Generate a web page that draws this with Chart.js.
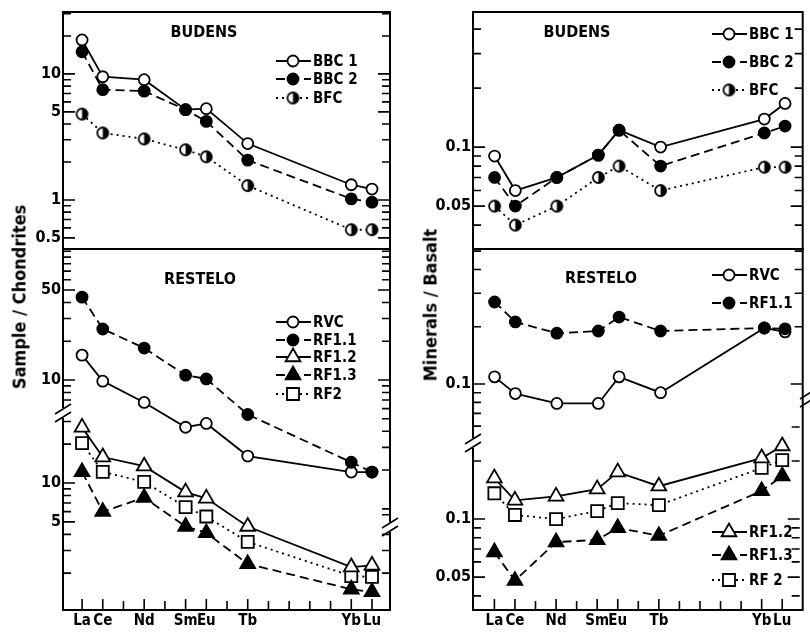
<!DOCTYPE html>
<html lang="en">
  <head>
    <meta charset="utf-8" />
    <title>REE patterns - Budens / Restelo</title>
    <style>
      * {
        margin: 0;
        padding: 0;
      }
      body {
        background: #fff;
      }
      .sheet {
        position: relative;
        width: 810px;
        height: 634px;
        background: #fff;
        overflow: hidden;
      }
      .sheet canvas {
        position: absolute;
        left: 0;
        top: 0;
      }
      .ytitle {
        position: absolute;
        transform: translate(-50%, -50%) rotate(-90deg);
        white-space: nowrap;
        font: bold 18px "DejaVu Sans Condensed", "DejaVu Sans", sans-serif;
        color: #000;
      }
    </style>
  </head>
  <body>
    <div class="sheet">
      <canvas id="chBud" width="810" height="634"></canvas>
      <canvas id="chResUp" width="810" height="634"></canvas>
      <canvas id="chResLo" width="810" height="634"></canvas>
      <canvas id="mbBud" width="810" height="634"></canvas>
      <canvas id="mbResUp" width="810" height="634"></canvas>
      <canvas id="mbResLo" width="810" height="634"></canvas>
      <div class="ytitle" style="left: 19px; top: 297px">Sample / Chondrites</div>
      <div class="ytitle" style="left: 430px; top: 305px">Minerals / Basalt</div>
    </div>

    <script src="https://cdn.jsdelivr.net/npm/chart.js"></script>
    <script>
      // rare earth elements, placed by atomic number
      const ree = ["La", "Ce", "Nd", "Sm", "Eu", "Tb", "Yb", "Lu"];
      const atomicNo = [57, 58, 60, 62, 63, 65, 70, 71];
      const xTickNos = [57, 58, 59, 60, 61, 62, 63, 64, 65, 66, 67, 68, 69, 70, 71];

      // sample / chondrites
      const chBBC1 = [18.6, 9.5, 9.0, 5.2, 5.3, 2.8, 1.32, 1.22];
      const chBBC2 = [15, 7.5, 7.3, 5.2, 4.2, 2.07, 1.02, 0.96];
      const chBFC = [4.8, 3.4, 3.05, 2.5, 2.2, 1.3, 0.58, 0.58];
      const chRVC = [15.6, 9.8, 6.7, 4.3, 4.6, 2.57, 1.93, 1.93];
      const chRF11 = [44, 24.9, 17.7, 10.9, 10.2, 5.4, 2.3, 1.93];
      const chRF12 = [27, 15.9, 13.5, 8.5, 7.6, 4.6, 2.23, 2.3];
      const chRF13 = [12.2, 6.0, 7.7, 4.6, 4.1, 2.36, 1.5, 1.43];
      const chRF2 = [20.4, 12.2, 10.2, 6.5, 5.5, 3.5, 1.9, 1.87];

      // minerals / basalt
      const mbBBC1 = [0.09, 0.06, 0.07, 0.091, 0.122, 0.1, 0.139, 0.167];
      const mbBBC2 = [0.07, 0.05, 0.07, 0.091, 0.122, 0.08, 0.118, 0.128];
      const mbBFC = [0.05, 0.04, 0.05, 0.07, 0.08, 0.06, 0.079, 0.079];
      const mbRVC = [0.109, 0.089, 0.079, 0.079, 0.109, 0.09, 0.197, 0.188];
      const mbRF11 = [0.27, 0.212, 0.185, 0.19, 0.225, 0.19, 0.197, 0.195];
      const mbRF12 = [0.163, 0.125, 0.131, 0.143, 0.175, 0.148, 0.207, 0.239];
      const mbRF13 = [0.0675, 0.048, 0.076, 0.078, 0.09, 0.082, 0.14, 0.167];
      const mbRF2 = [0.136, 0.105, 0.1, 0.11, 0.121, 0.118, 0.184, 0.202];

      // labelled y ticks
      const chBudTicks = [0.5, 1, 5, 10];
      const chUpTicks = [10, 50];
      const chLoTicks = [5, 10];
      const mbBudTicks = [0.05, 0.1];
      const mbUpTicks = [0.1];
      const mbLoTicks = [0.05, 0.1];

      const FONT = '"DejaVu Sans Condensed", "DejaVu Sans", sans-serif';
      Chart.defaults.font.family = FONT;
      Chart.defaults.font.size = 16;
      Chart.defaults.font.weight = "bold";
      Chart.defaults.color = "#000";

      // half filled circle (BFC)
      function halfDot(r) {
        const c = document.createElement("canvas");
        const s = Math.ceil(2 * r + 4);
        c.width = c.height = s;
        const g = c.getContext("2d");
        const m = s / 2;
        g.fillStyle = "#fff";
        g.beginPath();
        g.arc(m, m, r, 0, 2 * Math.PI);
        g.fill();
        g.fillStyle = "#000";
        g.beginPath();
        g.arc(m, m, r, -Math.PI / 2, Math.PI / 2);
        g.fill();
        g.lineWidth = 1.8;
        g.beginPath();
        g.arc(m, m, r, 0, 2 * Math.PI);
        g.stroke();
        return c;
      }
      const half = halfDot(5.5);

      const looks = {
        open: { dash: [], st: "circle", fill: "#fff", r: 5.5 },
        solid: { dash: [9, 5], st: "circle", fill: "#000", r: 5.5 },
        half: { dash: [2, 4], st: half, fill: "#fff", r: 5.5 },
        openTri: { dash: [], st: "triangle", fill: "#fff", r: 8.5 },
        fillTri: { dash: [9, 5], st: "triangle", fill: "#000", r: 8.5 },
        openSq: { dash: [2, 4], st: "rect", fill: "#fff", r: 8.5 }
      };

      function series(label, values, look) {
        const l = looks[look];
        return {
          label,
          data: values.map((v, i) => ({ x: atomicNo[i], y: v })),
          borderColor: "#000",
          borderWidth: 1.8,
          borderDash: l.dash,
          pointStyle: l.st,
          pointRadius: l.r,
          pointBackgroundColor: l.fill,
          pointBorderColor: "#000",
          pointBorderWidth: 1.8,
          tension: 0,
          order: l.fill === "#000" ? 0 : 1 // filled marks on top
        };
      }

      function mark(ctx, ds, x, y) {
        const r = ds.pointRadius;
        const st = ds.pointStyle;
        if (typeof st !== "string") {
          ctx.drawImage(st, x - st.width / 2, y - st.height / 2);
          return;
        }
        ctx.beginPath();
        if (st === "circle") ctx.arc(x, y, r, 0, Math.PI * 2);
        else if (st === "triangle") {
          ctx.moveTo(x, y - r);
          ctx.lineTo(x + r * 0.866, y + r / 2);
          ctx.lineTo(x - r * 0.866, y + r / 2);
          ctx.closePath();
        } else {
          const s = r * Math.SQRT1_2;
          ctx.rect(x - s, y - s, 2 * s, 2 * s);
        }
        ctx.fillStyle = ds.pointBackgroundColor;
        ctx.fill();
        ctx.lineWidth = ds.pointBorderWidth;
        ctx.strokeStyle = "#000";
        ctx.stroke();
      }

      // box, inward ticks, axis breaks, panel name
      const frame = {
        id: "frame",
        afterDraw(chart, args, o) {
          const { ctx, chartArea: a } = chart;
          const y = chart.scales.y;
          ctx.save();
          ctx.strokeStyle = "#000";
          ctx.lineWidth = 2;
          if (o.box) ctx.strokeRect(a.left, a.top, a.width, a.height);
          ctx.lineWidth = 1.6;
          ctx.beginPath();
          const e0 = Math.floor(Math.log10(y.min));
          const e1 = Math.ceil(Math.log10(y.max));
          for (let e = e0; e <= e1; e++) {
            for (let m = 1; m <= 9; m++) {
              const v = +(m * Math.pow(10, e)).toPrecision(6);
              if (v < y.min || v > y.max) continue;
              const p = y.getPixelForValue(v);
              const len = (o.labelled || []).includes(v) ? 12 : 8;
              [[o.left, a.left, 1], [o.right, a.right, -1]].forEach(([rng, x0, dir]) => {
                if (!rng || p < rng[0] || p > rng[1]) return;
                ctx.moveTo(x0, p);
                ctx.lineTo(x0 + dir * len, p);
              });
            }
          }
          if (o.xTicks) {
            const x = chart.scales.x;
            x.ticks.forEach((t) => {
              const p = x.getPixelForValue(t.value);
              const len = atomicNo.includes(t.value) ? 11 : 9;
              ctx.moveTo(p, a.bottom);
              ctx.lineTo(p, a.bottom - len);
            });
          }
          ctx.stroke();
          (o.breaks || []).forEach(([bx, by]) => {
            ctx.fillStyle = "#fff";
            ctx.fillRect(bx - 3, by - 5, 6, 10);
            ctx.beginPath();
            [-4, 4].forEach((k) => {
              ctx.moveTo(bx - 8, by + k + 5);
              ctx.lineTo(bx + 8, by + k - 5);
            });
            ctx.stroke();
          });
          if (o.title) {
            ctx.font = `bold 16px ${FONT}`;
            ctx.fillStyle = "#000";
            ctx.textAlign = "center";
            ctx.textBaseline = "middle";
            ctx.fillText(o.title[0], o.title[1], o.title[2]);
          }
          ctx.restore();
        }
      };

      // line + marker legend rows
      const key = {
        id: "key",
        afterDraw(chart, args, o) {
          if (!o.rows) return;
          const ctx = chart.ctx;
          ctx.save();
          ctx.font = `bold 15px ${FONT}`;
          ctx.textBaseline = "middle";
          o.rows.forEach(([i, y]) => {
            const ds = chart.data.datasets[i];
            const x0 = o.x;
            ctx.lineWidth = 1.8;
            ctx.strokeStyle = "#000";
            ctx.setLineDash(ds.borderDash);
            ctx.beginPath();
            ctx.moveTo(x0, y);
            ctx.lineTo(x0 + 35, y);
            ctx.stroke();
            ctx.setLineDash([]);
            mark(ctx, ds, x0 + 17, y);
            ctx.fillStyle = "#000";
            ctx.fillText(ds.label, x0 + 37, y + 1);
          });
          ctx.restore();
        }
      };

      function plot(id, datasets, o) {
        return new Chart(document.getElementById(id), {
          type: "line",
          data: { datasets },
          options: {
            responsive: false,
            animation: false,
            events: [],
            layout: { padding: o.pad },
            plugins: {
              legend: { display: false },
              tooltip: { enabled: false },
              frame: o.frame,
              key: o.key || {}
            },
            scales: {
              x: {
                type: "linear",
                min: o.xMin,
                max: o.xMax,
                display: !!o.xShow,
                grid: { display: false, drawTicks: false },
                border: { display: false },
                afterBuildTicks: (s) => {
                  s.ticks = xTickNos.map((v) => ({ value: v }));
                },
                afterFit: (s) => {
                  s.height = o.xShow ? 24 : 0;
                },
                ticks: {
                  autoSkip: false,
                  maxRotation: 0,
                  padding: 2,
                  font: { size: 15 },
                  callback: (v) => {
                    const i = atomicNo.indexOf(v);
                    return i < 0 ? "" : ree[i];
                  }
                }
              },
              y: {
                type: "logarithmic",
                min: o.yMin,
                max: o.yMax,
                grid: { display: false, drawTicks: false },
                border: { display: false },
                afterBuildTicks: (s) => {
                  s.ticks = o.yLabels.map((v) => ({ value: v }));
                },
                afterFit: (s) => {
                  s.width = o.yWidth;
                },
                ticks: { autoSkip: false, padding: 2, callback: (v) => String(v) }
              }
            }
          },
          plugins: [frame, key]
        });
      }

      // left figure: sample / chondrites
      const L = { xMin: 56.08, xMax: 71.87, yWidth: 63 };
      plot("chBud", [
        series("BBC 1", chBBC1, "open"),
        series("BBC 2", chBBC2, "solid"),
        series("BFC", chBFC, "half")
      ], {
        ...L, yMin: 0.408, yMax: 31, yLabels: chBudTicks,
        pad: { left: 0, top: 12, right: 420, bottom: 385 },
        frame: { box: true, labelled: chBudTicks, left: [12, 249], right: [12, 249], title: ["BUDENS", 204, 33] },
        key: { x: 276, rows: [[0, 61], [1, 79], [2, 98]] }
      });
      plot("chResUp", [
        series("RVC", chRVC, "open"),
        series("RF1.1", chRF11, "solid")
      ], {
        ...L, yMin: 0.164, yMax: 104, yLabels: chUpTicks,
        pad: { left: 0, top: 249, right: 420, bottom: 24 },
        frame: { box: true, labelled: chUpTicks, left: [249, 408], right: [249, 520],
          breaks: [[63, 413], [390, 527]], title: ["RESTELO", 200, 280] },
        key: { x: 276, rows: [[0, 322], [1, 340]] }
      });
      plot("chResLo", [
        series("RF1.2", chRF12, "openTri"),
        series("RF1.3", chRF13, "fillTri"),
        series("RF2", chRF2, "openSq")
      ], {
        ...L, xShow: true, yMin: 1.036, yMax: 652, yLabels: chLoTicks,
        pad: { left: 0, top: 249, right: 420, bottom: 0 },
        frame: { labelled: chLoTicks, left: [420, 610], right: [534, 610], xTicks: true },
        key: { x: 276, rows: [[0, 357], [1, 375], [2, 394]] }
      });

      // right figure: minerals / basalt
      const R = { xMin: 55.96, xMax: 71.85, yWidth: 73 };
      plot("mbBud", [
        series("BBC 1", mbBBC1, "open"),
        series("BBC 2", mbBBC2, "solid"),
        series("BFC", mbBFC, "half")
      ], {
        ...R, yMin: 0.0302, yMax: 0.489, yLabels: mbBudTicks,
        pad: { left: 400, top: 12, right: 2, bottom: 385 },
        frame: { box: true, labelled: mbBudTicks, left: [12, 249], right: [12, 249], title: ["BUDENS", 577, 33] },
        key: { x: 712, rows: [[0, 34], [1, 62], [2, 90]] }
      });
      plot("mbResUp", [
        series("RVC", mbRVC, "open"),
        series("RF1.1", mbRF11, "solid")
      ], {
        ...R, yMin: 0.00647, yMax: 0.513, yLabels: mbUpTicks,
        pad: { left: 400, top: 249, right: 2, bottom: 24 },
        frame: { box: true, labelled: mbUpTicks, left: [249, 437], right: [249, 392],
          breaks: [[473, 443], [808, 398]], title: ["RESTELO", 601, 279] },
        key: { x: 712, rows: [[0, 275], [1, 303]] }
      });
      plot("mbResLo", [
        series("RF1.2", mbRF12, "openTri"),
        series("RF1.3", mbRF13, "fillTri"),
        series("RF 2", mbRF2, "openSq")
      ], {
        ...R, xShow: true, yMin: 0.0338, yMax: 2.506, yLabels: mbLoTicks,
        pad: { left: 400, top: 249, right: 2, bottom: 0 },
        frame: { labelled: mbLoTicks, left: [450, 610], right: [405, 610], xTicks: true },
        key: { x: 712, rows: [[0, 532], [1, 555], [2, 580]] }
      });
    </script>
  </body>
</html>
